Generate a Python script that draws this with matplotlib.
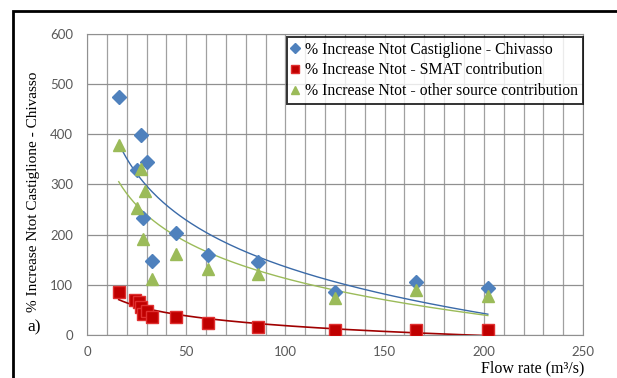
import numpy as np
import matplotlib
matplotlib.use("Agg")
import matplotlib.pyplot as plt
from matplotlib.patches import Rectangle

# flow rate (m3/s) and % increase of Ntot
flow_total = [16, 27, 25, 30, 28, 33, 45, 61, 86, 125, 166, 202]
inc_total = [475, 398, 328, 344, 234, 148, 204, 160, 145, 86, 105, 93]

flow_smat = [16, 24, 26, 27, 28, 30, 33, 45, 61, 86, 125, 166, 202]
inc_smat = [86, 70, 66, 55, 42, 48, 36, 36, 24, 16, 10, 10, 10]

flow_other = [16, 27, 29, 25, 28, 33, 45, 61, 86, 125, 166, 202]
inc_other = [378, 330, 286, 254, 192, 112, 162, 132, 122, 74, 90, 78]

labels = ["% Increase Ntot Castiglione - Chivasso",
          "% Increase Ntot - SMAT contribution",
          "% Increase Ntot - other source contribution"]

blue = "#4F81BD"
red = "#C00000"
green = "#9BBB59"


def log_trend(x, y):
    # logarithmic trendline, same as the spreadsheet one
    x = np.array(x, dtype=float)
    b, a = np.polyfit(np.log(x), np.array(y, dtype=float), 1)
    xs = np.linspace(x.min(), x.max(), 200)
    return xs, a + b * np.log(xs)


fig = plt.figure(figsize=(6.17, 3.78), dpi=100)
ax = fig.add_axes([0.141, 0.114, 0.804, 0.796])

ax.plot(flow_total, inc_total, "D", color=blue, ms=7, mec=blue, label=labels[0], zorder=3)
ax.plot(flow_smat, inc_smat, "s", color=red, ms=9, mec="#E03030", label=labels[1], zorder=3)
ax.plot(flow_other, inc_other, "^", color=green, ms=8, mec=green, label=labels[2], zorder=3)

xs, ys = log_trend(flow_total, inc_total)
ax.plot(xs, ys, color="#3A6AA8", lw=1, zorder=2)
xs, ys = log_trend(flow_other, inc_other)
ax.plot(xs, ys, color=green, lw=1, zorder=2)
xs, ys = log_trend(flow_smat, inc_smat)
ax.plot(xs, ys, color="#A00000", lw=1.2, zorder=2)

ax.set_xlim(0, 250)
ax.set_ylim(0, 600)
ax.set_xticks(range(0, 251, 50))
ax.set_xticks(range(0, 251, 10), minor=True)
ax.set_yticks(range(0, 601, 100))
ax.grid(True, which="both", axis="x", color="#A0A0A0", lw=0.9)
ax.grid(True, which="major", axis="y", color="#909090", lw=0.9)
ax.set_axisbelow(True)
for s in ax.spines.values():
    s.set_color("#909090")
ax.tick_params(which="both", length=0, colors="#595959", labelsize=9.5, pad=8)
ax.tick_params(axis="y", pad=10)
for t in ax.get_xticklabels() + ax.get_yticklabels():
    t.set_family("Lato")

ax.set_ylabel("% Increase Ntot Castiglione - Chivasso", family="Liberation Serif",
              fontsize=11)
ax.yaxis.set_label_coords(-0.095, 0.475)
fig.text(0.864, 0.026, "Flow rate (m³/s)", family="Liberation Serif", fontsize=11.5,
         ha="center", va="center")
fig.text(0.045, 0.135, "a)", family="Liberation Serif", fontsize=12.5, ha="left", va="center")

leg = ax.legend(loc="upper right", bbox_to_anchor=(1.0, 0.99), frameon=True, fancybox=False,
                prop={"family": "Liberation Serif", "size": 11.3}, handlelength=0.5,
                handletextpad=0.4, borderpad=0.3, labelspacing=0.3, borderaxespad=0,
                markerscale=0.7)
leg.get_frame().set_edgecolor("black")
leg.get_frame().set_linewidth(1.4)

fig.patches.append(Rectangle((0.021, -0.05), 1.1, 1.021, transform=fig.transFigure,
                             fill=False, edgecolor="black", lw=2))

fig.savefig("out.png", dpi=100)
